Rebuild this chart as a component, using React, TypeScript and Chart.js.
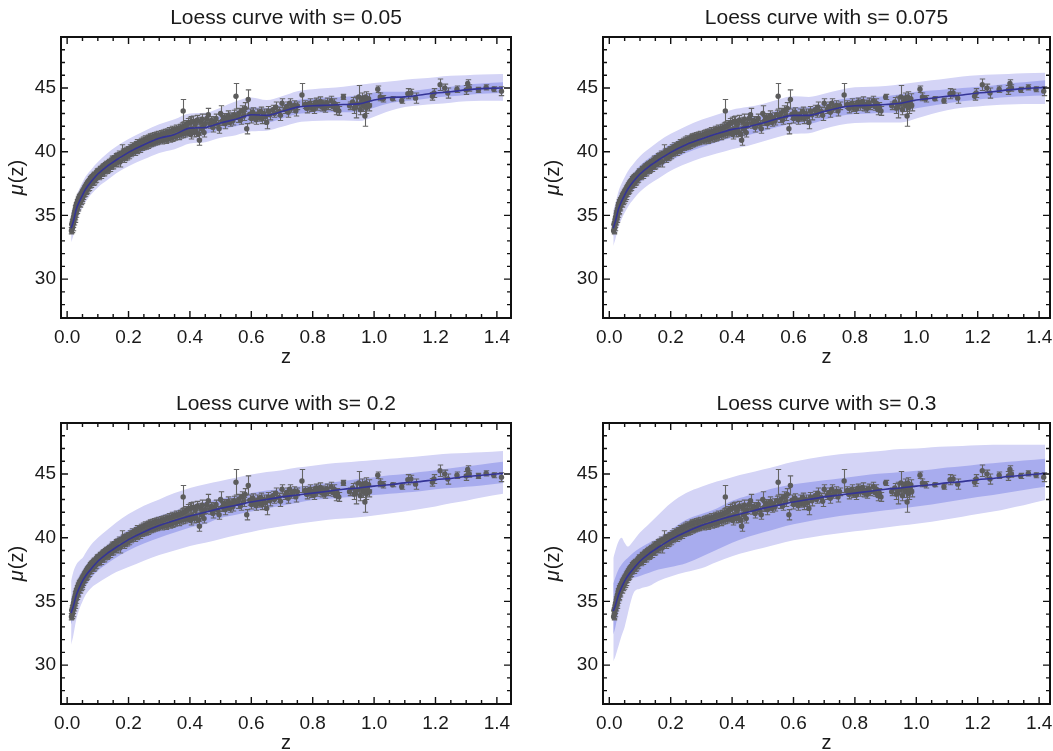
import React, { useEffect, useRef } from "react";
import { Chart, registerables } from "chart.js";

Chart.register(...registerables);

// ---------- data ----------
// Supernova distance moduli: [z, mu, sigma]
const snData: number[][] = [
  [0.014, 33.8, 0.25], [0.015, 34.3, 0.2], [0.016, 33.95, 0.3], [0.017, 34.45, 0.2], [0.018, 34.05, 0.25],
  [0.019, 34.7, 0.2], [0.02, 34.35, 0.3], [0.021, 34.9, 0.2], [0.022, 34.5, 0.25], [0.023, 35.15, 0.2],
  [0.024, 34.75, 0.3], [0.025, 35.35, 0.2], [0.026, 34.9, 0.25], [0.027, 35.55, 0.2], [0.028, 35.15, 0.3],
  [0.029, 35.8, 0.2], [0.03, 35.3, 0.25], [0.031, 35.9, 0.2], [0.032, 35.45, 0.3], [0.033, 36.05, 0.2],
  [0.034, 35.6, 0.25], [0.035, 36.2, 0.2], [0.036, 35.75, 0.3], [0.037, 36.3, 0.2], [0.038, 35.95, 0.25],
  [0.04, 36.45, 0.2], [0.041, 35.95, 0.3], [0.043, 36.55, 0.2], [0.044, 36.1, 0.25], [0.046, 36.7, 0.2],
  [0.047, 36.25, 0.3], [0.049, 36.85, 0.2], [0.05, 36.35, 0.25], [0.052, 36.95, 0.2], [0.053, 36.55, 0.3],
  [0.055, 37.1, 0.2], [0.056, 36.7, 0.25], [0.058, 37.25, 0.2], [0.059, 36.8, 0.3], [0.061, 37.35, 0.2],
  [0.062, 36.9, 0.25], [0.064, 37.5, 0.2], [0.065, 37.05, 0.3], [0.067, 37.6, 0.2], [0.068, 37.15, 0.25],
  [0.07, 37.7, 0.2], [0.072, 37.25, 0.3], [0.074, 37.85, 0.2], [0.075, 37.4, 0.25], [0.077, 37.95, 0.2],
  [0.079, 37.5, 0.3], [0.081, 38.0, 0.2], [0.083, 37.6, 0.25], [0.085, 38.1, 0.2], [0.087, 37.7, 0.3],
  [0.089, 38.2, 0.2], [0.091, 37.8, 0.25], [0.093, 38.3, 0.2], [0.095, 37.9, 0.3], [0.097, 38.45, 0.2],
  [0.099, 38.05, 0.25],
  [0.102, 38.5, 0.2], [0.104, 38.05, 0.25], [0.107, 38.65, 0.2], [0.109, 38.2, 0.3], [0.112, 38.75, 0.2],
  [0.114, 38.3, 0.25], [0.117, 38.85, 0.2], [0.119, 38.4, 0.3], [0.122, 38.95, 0.2], [0.124, 38.5, 0.25],
  [0.127, 39.05, 0.2], [0.129, 38.6, 0.3],
  [0.132, 39.1, 0.2], [0.134, 38.65, 0.25], [0.137, 39.2, 0.2], [0.139, 38.75, 0.3], [0.142, 39.3, 0.2],
  [0.144, 38.85, 0.25], [0.147, 39.4, 0.25], [0.149, 38.95, 0.3], [0.152, 39.5, 0.2], [0.155, 39.05, 0.25],
  [0.158, 39.6, 0.25], [0.16, 39.15, 0.3], [0.163, 39.7, 0.2], [0.166, 39.25, 0.3], [0.169, 39.8, 0.25],
  [0.172, 39.2, 0.4], [0.175, 39.85, 0.2], [0.178, 39.85, 0.7], [0.181, 39.95, 0.25], [0.184, 39.45, 0.3],
  [0.187, 40.05, 0.2], [0.19, 39.55, 0.25], [0.193, 40.1, 0.25], [0.196, 39.65, 0.3], [0.199, 40.2, 0.2],
  [0.202, 39.75, 0.3], [0.205, 40.3, 0.25], [0.208, 39.85, 0.25], [0.211, 40.4, 0.3], [0.214, 39.95, 0.25],
  [0.217, 40.45, 0.2], [0.22, 40.0, 0.3], [0.223, 40.55, 0.25], [0.226, 40.1, 0.25], [0.229, 40.65, 0.3],
  [0.232, 40.2, 0.25], [0.235, 40.7, 0.2], [0.238, 40.25, 0.3], [0.241, 40.8, 0.25], [0.244, 40.35, 0.25],
  [0.247, 40.85, 0.3], [0.25, 40.4, 0.25], [0.253, 40.95, 0.3], [0.256, 40.45, 0.25], [0.259, 41.0, 0.25],
  [0.262, 40.55, 0.3], [0.265, 41.05, 0.25], [0.268, 40.6, 0.25], [0.271, 41.1, 0.3], [0.274, 40.65, 0.25],
  [0.277, 41.15, 0.3], [0.28, 40.7, 0.25], [0.283, 41.2, 0.3], [0.286, 40.75, 0.25], [0.289, 41.25, 0.3],
  [0.292, 40.8, 0.25], [0.295, 41.3, 0.3], [0.298, 40.85, 0.25],
  [0.301, 41.3, 0.3], [0.304, 40.85, 0.25], [0.307, 41.35, 0.3], [0.31, 40.9, 0.3], [0.313, 41.4, 0.3],
  [0.316, 40.95, 0.25], [0.319, 41.45, 0.3], [0.322, 40.95, 0.3], [0.325, 41.5, 0.3], [0.328, 41.0, 0.25],
  [0.331, 41.55, 0.35], [0.334, 41.05, 0.3], [0.337, 41.6, 0.3], [0.34, 41.1, 0.3], [0.343, 41.65, 0.35],
  [0.346, 41.15, 0.3], [0.349, 41.7, 0.3], [0.352, 41.2, 0.3], [0.355, 41.75, 0.35], [0.358, 41.25, 0.3],
  [0.361, 41.8, 0.3], [0.364, 41.3, 0.35], [0.367, 41.85, 0.3], [0.37, 41.35, 0.3], [0.373, 41.9, 0.35],
  [0.376, 41.4, 0.3], [0.378, 43.2, 0.9], [0.381, 42.0, 0.35], [0.384, 41.45, 0.3], [0.387, 42.1, 0.35],
  [0.39, 41.55, 0.3], [0.393, 42.2, 0.4], [0.396, 41.6, 0.3], [0.399, 42.3, 0.4], [0.402, 41.35, 0.35],
  [0.405, 42.35, 0.4], [0.408, 41.7, 0.3], [0.411, 42.4, 0.4], [0.414, 41.5, 0.35], [0.417, 42.15, 0.3],
  [0.42, 41.6, 0.4], [0.424, 42.5, 0.35], [0.428, 41.4, 0.4], [0.431, 40.9, 0.4], [0.434, 42.35, 0.35],
  [0.437, 41.8, 0.3], [0.44, 42.55, 0.4], [0.443, 41.95, 0.35], [0.446, 41.5, 0.35], [0.449, 42.2, 0.3],
  [0.455, 42.6, 0.35], [0.46, 42.9, 0.5], [0.465, 42.2, 0.35], [0.47, 42.45, 0.3], [0.475, 41.9, 0.35],
  [0.48, 42.3, 0.4], [0.485, 42.6, 0.35], [0.49, 42.15, 0.3], [0.495, 41.8, 0.35], [0.5, 43.0, 0.6],
  [0.505, 42.4, 0.35], [0.51, 42.7, 0.3], [0.515, 42.2, 0.4], [0.52, 42.55, 0.35], [0.525, 42.85, 0.35],
  [0.53, 42.3, 0.3], [0.535, 42.65, 0.4], [0.54, 42.45, 0.35], [0.545, 42.9, 0.35], [0.55, 44.35, 1.0],
  [0.555, 42.7, 0.4], [0.56, 43.05, 0.35], [0.565, 42.5, 0.35], [0.57, 43.2, 0.4], [0.575, 42.8, 0.35],
  [0.58, 43.4, 0.45], [0.585, 41.8, 0.4], [0.59, 44.1, 0.75], [0.595, 42.95, 0.4], [0.6, 42.6, 0.35],
  [0.605, 43.1, 0.35], [0.61, 42.8, 0.3], [0.615, 42.5, 0.35], [0.62, 42.95, 0.4], [0.625, 42.7, 0.3],
  [0.63, 43.15, 0.35], [0.635, 42.6, 0.4], [0.64, 43.0, 0.35], [0.645, 42.75, 0.3], [0.65, 42.3, 0.5],
  [0.655, 43.2, 0.35], [0.66, 42.9, 0.4], [0.67, 43.3, 0.35], [0.675, 43.0, 0.3], [0.68, 43.5, 0.4],
  [0.69, 43.15, 0.35], [0.695, 42.85, 0.4], [0.7, 43.8, 0.35], [0.71, 43.3, 0.3], [0.715, 43.55, 0.35],
  [0.72, 43.1, 0.4], [0.725, 43.8, 0.35], [0.73, 43.4, 0.3], [0.74, 43.65, 0.35], [0.745, 43.2, 0.4],
  [0.75, 43.6, 0.3], [0.765, 44.45, 0.9],
  [0.775, 43.7, 0.3], [0.78, 43.4, 0.35], [0.785, 43.55, 0.3], [0.79, 43.8, 0.35], [0.795, 43.45, 0.3],
  [0.8, 43.65, 0.3], [0.805, 43.35, 0.35], [0.81, 43.9, 0.3], [0.815, 43.6, 0.35], [0.82, 43.75, 0.3],
  [0.825, 43.95, 0.35], [0.83, 43.5, 0.3], [0.835, 43.7, 0.35], [0.84, 43.4, 0.3], [0.845, 43.85, 0.35],
  [0.85, 43.6, 0.3], [0.86, 44.0, 0.35], [0.865, 43.55, 0.3], [0.87, 43.8, 0.35], [0.875, 43.3, 0.4],
  [0.88, 43.5, 0.35], [0.885, 43.2, 0.35], [0.9, 44.3, 0.2],
  [0.92, 43.6, 0.3], [0.93, 43.9, 0.35], [0.935, 43.4, 0.4], [0.94, 43.5, 0.85], [0.945, 43.75, 0.4],
  [0.95, 44.3, 0.9], [0.955, 43.3, 0.4], [0.96, 43.9, 0.35], [0.962, 44.2, 0.4], [0.965, 43.6, 0.45],
  [0.968, 44.0, 0.35], [0.97, 42.8, 0.8], [0.972, 44.3, 0.4], [0.975, 43.45, 0.45], [0.978, 43.8, 0.35],
  [0.982, 44.15, 0.4], [0.985, 43.6, 0.4],
  [1.012, 44.9, 0.25], [1.02, 44.3, 0.3], [1.03, 44.15, 0.25], [1.06, 44.15, 0.15], [1.09, 44.0, 0.2],
  [1.11, 44.55, 0.4], [1.12, 44.6, 0.3], [1.135, 44.2, 0.4], [1.19, 44.35, 0.3], [1.195, 44.6, 0.35],
  [1.215, 45.25, 0.45], [1.23, 45.0, 0.3], [1.24, 44.6, 0.4], [1.27, 44.9, 0.25], [1.3, 44.85, 0.35],
  [1.305, 45.35, 0.3], [1.31, 45.0, 0.25], [1.34, 44.85, 0.2], [1.365, 45.05, 0.2], [1.39, 44.9, 0.2],
  [1.415, 44.75, 0.35],
];

// grid on which the loess fits / confidence bands are given
const bandZ = [0.013, 0.02, 0.03, 0.04, 0.05, 0.06, 0.08, 0.1, 0.13, 0.16, 0.2, 0.25, 0.3, 0.35, 0.4, 0.45,
  0.5, 0.55, 0.6, 0.65, 0.7, 0.75, 0.8, 0.85, 0.9, 0.95, 1.0, 1.05, 1.1, 1.15, 1.2, 1.25, 1.3, 1.35, 1.42];

// s = 0.05
const fit005 = [34.0, 34.5, 35.5, 36.1, 36.6, 37.05, 37.7, 38.25, 38.85, 39.35, 39.95, 40.55, 41.05, 41.35, 41.85, 41.9, 42.25, 42.55, 42.9, 42.85, 43.15, 43.5, 43.6, 43.65, 43.7, 43.75, 44.05, 44.25, 44.3, 44.45, 44.6, 44.7, 44.85, 44.95, 45.0];
const outerLo005 = [32.9, 33.4, 34.5, 35.1, 35.6, 36.05, 36.7, 37.2, 37.75, 38.3, 38.85, 39.4, 39.9, 40.2, 40.65, 40.75, 41.1, 41.3, 41.6, 41.65, 41.95, 42.3, 42.4, 42.45, 42.45, 42.4, 42.75, 43.2, 43.5, 43.65, 43.75, 43.85, 43.95, 44.0, 44.0];
const innerLo005 = [33.5, 34.0, 35.05, 35.65, 36.15, 36.6, 37.25, 37.8, 38.4, 38.9, 39.45, 40.05, 40.55, 40.85, 41.3, 41.4, 41.75, 42.0, 42.3, 42.3, 42.6, 42.95, 43.05, 43.1, 43.1, 43.1, 43.45, 43.8, 43.95, 44.1, 44.25, 44.35, 44.45, 44.55, 44.6];
const innerHi005 = [34.5, 35.0, 35.95, 36.55, 37.05, 37.5, 38.15, 38.7, 39.3, 39.8, 40.45, 41.05, 41.55, 41.9, 42.4, 42.45, 42.8, 43.15, 43.5, 43.4, 43.7, 44.05, 44.2, 44.25, 44.3, 44.4, 44.65, 44.7, 44.7, 44.85, 45.0, 45.1, 45.25, 45.35, 45.45];
const outerHi005 = [35.1, 35.6, 36.5, 37.1, 37.6, 38.05, 38.65, 39.2, 39.85, 40.4, 41.0, 41.6, 42.15, 42.55, 43.0, 43.05, 43.45, 43.95, 44.25, 44.05, 44.35, 44.75, 44.9, 45.0, 45.1, 45.25, 45.4, 45.5, 45.65, 45.75, 45.85, 45.95, 46.0, 46.05, 46.1];

// s = 0.075
const fit0075 = [34.0, 34.55, 35.5, 36.1, 36.6, 37.05, 37.7, 38.25, 38.85, 39.35, 39.95, 40.55, 41.0, 41.4, 41.75, 41.95, 42.25, 42.6, 42.85, 42.85, 43.15, 43.45, 43.6, 43.65, 43.7, 43.8, 44.05, 44.2, 44.35, 44.45, 44.6, 44.7, 44.85, 44.95, 45.05];
const outerLo0075 = [32.6, 33.15, 34.1, 34.7, 35.2, 35.65, 36.3, 36.85, 37.45, 37.9, 38.5, 39.05, 39.5, 39.85, 40.2, 40.45, 40.8, 41.15, 41.4, 41.45, 41.8, 42.1, 42.25, 42.3, 42.3, 42.3, 42.6, 42.95, 43.25, 43.45, 43.55, 43.65, 43.7, 43.75, 43.75];
const innerLo0075 = [33.35, 33.9, 34.85, 35.45, 35.95, 36.4, 37.05, 37.6, 38.2, 38.7, 39.3, 39.9, 40.35, 40.75, 41.1, 41.3, 41.6, 41.95, 42.2, 42.2, 42.5, 42.8, 42.95, 43.0, 43.05, 43.1, 43.4, 43.6, 43.8, 43.95, 44.1, 44.2, 44.3, 44.35, 44.4];
const innerHi0075 = [34.65, 35.2, 36.15, 36.75, 37.25, 37.7, 38.35, 38.9, 39.5, 40.0, 40.6, 41.2, 41.65, 42.05, 42.4, 42.6, 42.9, 43.25, 43.5, 43.5, 43.8, 44.1, 44.25, 44.3, 44.35, 44.5, 44.7, 44.8, 44.9, 45.0, 45.1, 45.2, 45.35, 45.45, 45.6];
const outerHi0075 = [35.4, 35.95, 36.9, 37.5, 38.0, 38.45, 39.1, 39.65, 40.25, 40.8, 41.4, 42.0, 42.5, 42.9, 43.3, 43.5, 43.75, 44.1, 44.35, 44.3, 44.55, 44.85, 45.05, 45.1, 45.15, 45.3, 45.45, 45.6, 45.75, 45.9, 46.0, 46.05, 46.1, 46.15, 46.2];

// s = 0.2
const fit02 = [34.1, 34.6, 35.5, 36.1, 36.6, 37.0, 37.6, 38.15, 38.75, 39.25, 39.85, 40.45, 40.95, 41.35, 41.7, 42.0, 42.3, 42.55, 42.8, 43.0, 43.2, 43.35, 43.5, 43.65, 43.8, 43.9, 44.05, 44.15, 44.3, 44.4, 44.55, 44.65, 44.8, 44.9, 45.05];
const outerLo02 = [31.6, 32.3, 33.6, 34.4, 35.0, 35.5, 36.1, 36.45, 36.9, 37.3, 37.7, 38.2, 38.65, 39.0, 39.35, 39.6, 39.9, 40.2, 40.45, 40.7, 40.9, 41.1, 41.25, 41.4, 41.5, 41.6, 41.75, 41.9, 42.05, 42.25, 42.45, 42.7, 42.9, 43.15, 43.45];
const innerLo02 = [33.2, 33.7, 34.6, 35.2, 35.75, 36.2, 36.9, 37.4, 37.95, 38.45, 39.0, 39.55, 40.0, 40.4, 40.8, 41.1, 41.55, 41.8, 42.05, 42.3, 42.5, 42.75, 42.95, 43.05, 43.15, 43.25, 43.35, 43.45, 43.55, 43.65, 43.8, 43.9, 44.0, 44.1, 44.3];
const innerHi02 = [35.2, 35.6, 36.4, 37.0, 37.4, 37.8, 38.35, 38.8, 39.4, 39.95, 40.6, 41.2, 41.7, 42.1, 42.5, 42.8, 43.05, 43.3, 43.5, 43.7, 43.85, 44.0, 44.15, 44.3, 44.45, 44.6, 44.75, 44.9, 45.0, 45.15, 45.3, 45.45, 45.6, 45.75, 45.95];
const outerHi02 = [36.6, 37.3, 37.9, 38.2, 38.4, 38.8, 39.5, 40.0, 40.6, 41.2, 41.85, 42.5, 43.0, 43.5, 43.9, 44.2, 44.45, 44.7, 44.95, 45.15, 45.3, 45.5, 45.65, 45.8, 45.9, 46.0, 46.1, 46.2, 46.3, 46.4, 46.5, 46.6, 46.65, 46.7, 46.8];

// s = 0.3
const fit03 = [34.25, 34.7, 35.5, 36.1, 36.6, 37.0, 37.6, 38.15, 38.75, 39.25, 39.85, 40.45, 40.95, 41.35, 41.7, 42.0, 42.3, 42.55, 42.8, 43.0, 43.2, 43.35, 43.5, 43.65, 43.8, 43.9, 44.05, 44.15, 44.3, 44.4, 44.55, 44.65, 44.8, 44.9, 45.05];
const outerLo03 = [30.3, 30.7, 31.5, 32.3, 33.0, 34.0, 35.7, 36.0, 36.2, 36.6, 36.95, 37.3, 37.6, 38.1, 38.55, 38.9, 39.2, 39.5, 39.8, 40.0, 40.2, 40.35, 40.5, 40.65, 40.8, 40.95, 41.1, 41.25, 41.45, 41.65, 41.85, 42.05, 42.3, 42.55, 42.95];
const innerLo03 = [32.4, 33.0, 34.2, 35.3, 36.2, 36.6, 36.85, 37.0, 37.25, 37.5, 37.7, 38.0, 38.5, 39.05, 39.6, 40.05, 40.4, 40.75, 41.05, 41.3, 41.5, 41.7, 41.85, 42.0, 42.15, 42.3, 42.45, 42.6, 42.8, 43.0, 43.2, 43.35, 43.55, 43.75, 44.0];
const innerHi03 = [36.4, 36.9, 37.5, 37.9, 38.2, 38.4, 38.85, 39.2, 39.6, 39.95, 40.6, 41.4, 41.85, 42.3, 42.9, 43.3, 43.65, 43.95, 44.2, 44.35, 44.5, 44.65, 44.8, 44.95, 45.05, 45.15, 45.25, 45.35, 45.5, 45.6, 45.75, 45.85, 45.95, 46.05, 46.2];
const outerHi03 = [38.4, 39.0, 39.7, 40.0, 39.6, 39.3, 39.8, 40.4, 41.1, 41.8, 42.7, 43.5, 44.0, 44.4, 44.75, 45.05, 45.35, 45.65, 45.95, 46.2, 46.4, 46.55, 46.65, 46.75, 46.85, 46.95, 47.0, 47.1, 47.15, 47.2, 47.25, 47.3, 47.3, 47.3, 47.3];

const titles = ["Loess curve with s= 0.05", "Loess curve with s= 0.075", "Loess curve with s= 0.2", "Loess curve with s= 0.3"];
const xTickValues = [0, 0.2, 0.4, 0.6, 0.8, 1.0, 1.2, 1.4];
const yTickValues = [30, 35, 40, 45];

// ---------- styles ----------
const FONT = '"Liberation Sans", Arial, Helvetica, sans-serif';
const OUTER_COLOR = "rgb(212,212,246)";
const INNER_COLOR = "rgb(168,172,238)";
const LINE_COLOR = "rgb(52,52,150)";
const POINT_COLOR = "rgb(92,92,92)";
const BAR_COLOR = "rgb(100,100,100)";
const TEXT_COLOR = "#1a1a1a";

type PanelCfg = {
  title: string;
  left: number; top: number; w: number; h: number;
  area: { l: number; t: number; r: number; b: number };
  xMin: number; xMax: number;
  fit: number[]; oLo: number[]; iLo: number[]; iHi: number[]; oHi: number[];
  yLabelOffset: number;
};

const panels: PanelCfg[] = [
  { title: titles[0], left: 0, top: 0, w: 526, h: 380, area: { l: 61, t: 37, r: 511, b: 318 }, xMin: -0.02, xMax: 1.446,
    fit: fit005, oLo: outerLo005, iLo: innerLo005, iHi: innerHi005, oHi: outerHi005, yLabelOffset: 44 },
  { title: titles[1], left: 526, top: 0, w: 527, h: 380, area: { l: 77, t: 37, r: 524, b: 318 }, xMin: -0.0205, xMax: 1.4355,
    fit: fit0075, oLo: outerLo0075, iLo: innerLo0075, iHi: innerHi0075, oHi: outerHi0075, yLabelOffset: 50 },
  { title: titles[2], left: 0, top: 380, w: 526, h: 371, area: { l: 61, t: 43, r: 511, b: 324 }, xMin: -0.02, xMax: 1.446,
    fit: fit02, oLo: outerLo02, iLo: innerLo02, iHi: innerHi02, oHi: outerHi02, yLabelOffset: 44 },
  { title: titles[3], left: 526, top: 380, w: 527, h: 371, area: { l: 77, t: 43, r: 524, b: 324 }, xMin: -0.0205, xMax: 1.4355,
    fit: fit03, oLo: outerLo03, iLo: innerLo03, iHi: innerHi03, oHi: outerHi03, yLabelOffset: 50 },
];

const Y_MIN = 26.95;
const Y_MAX = 49.0;
const POINTS_INDEX = 4;

function makeDecor(cfg: PanelCfg) {
  return {
    id: "decor",
    beforeDatasetDraw(chart: any, args: any) {
      if (args.index !== POINTS_INDEX) return;
      const { ctx, chartArea } = chart;
      const xs = chart.scales.x;
      const ys = chart.scales.y;
      ctx.save();
      ctx.beginPath();
      ctx.rect(chartArea.left, chartArea.top, chartArea.right - chartArea.left, chartArea.bottom - chartArea.top);
      ctx.clip();
      ctx.strokeStyle = BAR_COLOR;
      ctx.lineWidth = 1.1;
      ctx.beginPath();
      for (const [z, mu, err] of snData) {
        const px = Math.round(xs.getPixelForValue(z)) + 0.5;
        const y1 = ys.getPixelForValue(mu - err);
        const y2 = ys.getPixelForValue(mu + err);
        ctx.moveTo(px, y1);
        ctx.lineTo(px, y2);
        ctx.moveTo(px - 2.7, y1);
        ctx.lineTo(px + 2.7, y1);
        ctx.moveTo(px - 2.7, y2);
        ctx.lineTo(px + 2.7, y2);
      }
      ctx.stroke();
      ctx.restore();
    },
    afterDraw(chart: any) {
      const { ctx, chartArea } = chart;
      const { left, right, top, bottom } = chartArea;
      const xs = chart.scales.x;
      const ys = chart.scales.y;
      ctx.save();
      // ticks (inward, all four sides)
      ctx.strokeStyle = "#111";
      ctx.lineWidth = 1.4;
      ctx.beginPath();
      for (let k = 0; k <= 29; k++) {
        const v = k * 0.05;
        const px = xs.getPixelForValue(v);
        if (px < left + 1 || px > right - 1) continue;
        const len = k % 4 === 0 ? 7 : 4;
        ctx.moveTo(px, bottom);
        ctx.lineTo(px, bottom - len);
        ctx.moveTo(px, top);
        ctx.lineTo(px, top + len);
      }
      for (let v = 27; v <= 49; v++) {
        const py = ys.getPixelForValue(v);
        if (py < top + 1 || py > bottom - 1) continue;
        const len = v % 5 === 0 ? 7 : 4;
        ctx.moveTo(left, py);
        ctx.lineTo(left + len, py);
        ctx.moveTo(right, py);
        ctx.lineTo(right - len, py);
      }
      ctx.stroke();
      // frame
      ctx.lineWidth = 2;
      ctx.strokeRect(left, top, right - left, bottom - top);

      // title
      ctx.fillStyle = TEXT_COLOR;
      ctx.font = `21px ${FONT}`;
      ctx.textAlign = "center";
      ctx.textBaseline = "alphabetic";
      const cx = (left + right) / 2;
      ctx.fillText(cfg.title, cx, top - 13);
      // x label
      ctx.font = `20px ${FONT}`;
      ctx.fillText("z", cx, bottom + 45);
      // y label μ(z), rotated
      const cy = (top + bottom) / 2;
      ctx.translate(left - cfg.yLabelOffset, cy);
      ctx.rotate(-Math.PI / 2);
      ctx.textAlign = "left";
      ctx.textBaseline = "middle";
      ctx.font = `italic 20px ${FONT}`;
      const muW = ctx.measureText("μ").width;
      ctx.font = `20px ${FONT}`;
      const restW = ctx.measureText("(z)").width;
      const x0 = -(muW + restW + 1) / 2;
      ctx.font = `italic 20px ${FONT}`;
      ctx.fillText("μ", x0, 0);
      ctx.font = `20px ${FONT}`;
      ctx.fillText("(z)", x0 + muW + 1, 0);
      ctx.restore();
    },
  };
}

function Panel({ cfg }: { cfg: PanelCfg }) {
  const ref = useRef<HTMLCanvasElement>(null);
  useEffect(() => {
    const canvas = ref.current;
    if (!canvas) return;
    const toPts = (arr: number[]) => bandZ.map((z, i) => ({ x: z, y: arr[i] }));
    const bandBase = {
      borderWidth: 0,
      borderColor: "rgba(0,0,0,0)",
      pointRadius: 0,
      cubicInterpolationMode: "monotone" as const,
    };
    const chart = new Chart(canvas, {
      type: "line",
      data: {
        datasets: [
          { ...bandBase, label: "outer lo", data: toPts(cfg.oLo), fill: false, order: 6 },
          { ...bandBase, label: "outer hi", data: toPts(cfg.oHi), fill: "-1", backgroundColor: OUTER_COLOR, order: 5 },
          { ...bandBase, label: "inner lo", data: toPts(cfg.iLo), fill: false, order: 4 },
          { ...bandBase, label: "inner hi", data: toPts(cfg.iHi), fill: "-1", backgroundColor: INNER_COLOR, order: 3 },
          {
            label: "SNe",
            data: snData.map(([z, mu]) => ({ x: z, y: mu })),
            showLine: false,
            pointRadius: 2.7,
            pointBackgroundColor: POINT_COLOR,
            pointBorderWidth: 0,
            pointBorderColor: POINT_COLOR,
            order: 2,
          },
          {
            label: "loess",
            data: toPts(cfg.fit),
            borderColor: LINE_COLOR,
            borderWidth: 1.6,
            pointRadius: 0,
            fill: false,
            cubicInterpolationMode: "monotone",
            order: 1,
          },
        ],
      },
      options: {
        animation: false,
        responsive: false,
        events: [],
        layout: {
          autoPadding: false,
          padding: { left: 0, top: cfg.area.t, right: cfg.w - cfg.area.r, bottom: 0 },
        },
        plugins: {
          legend: { display: false },
          title: { display: false },
          tooltip: { enabled: false },
        },
        scales: {
          x: {
            type: "linear",
            min: cfg.xMin,
            max: cfg.xMax,
            grid: { display: false, drawTicks: false },
            border: { display: false },
            afterBuildTicks: (s: any) => {
              s.ticks = xTickValues.map((v) => ({ value: v }));
            },
            afterFit: (s: any) => {
              s.height = cfg.h - cfg.area.b;
              s.paddingLeft = 0;
              s.paddingRight = 0;
            },
            ticks: {
              autoSkip: false,
              maxRotation: 0,
              padding: 8,
              color: TEXT_COLOR,
              font: { family: FONT, size: 19 },
              callback: (v: any) => Number(v).toFixed(1),
            },
          },
          y: {
            type: "linear",
            min: Y_MIN,
            max: Y_MAX,
            grid: { display: false, drawTicks: false },
            border: { display: false },
            afterBuildTicks: (s: any) => {
              s.ticks = yTickValues.map((v) => ({ value: v }));
            },
            afterFit: (s: any) => {
              s.width = cfg.area.l;
              s.paddingTop = 0;
              s.paddingBottom = 0;
            },
            ticks: {
              autoSkip: false,
              padding: 5,
              color: TEXT_COLOR,
              font: { family: FONT, size: 19 },
              callback: (v: any) => String(v),
            },
          },
        },
      } as any,
      plugins: [makeDecor(cfg)],
    });
    return () => chart.destroy();
  }, [cfg]);
  return (
    <canvas
      ref={ref}
      width={cfg.w}
      height={cfg.h}
      style={{ position: "absolute", left: cfg.left, top: cfg.top, width: cfg.w, height: cfg.h }}
    />
  );
}

export default function App() {
  return (
    <div style={{ position: "absolute", left: 0, top: 0, width: 1053, height: 751, background: "#fff", overflow: "hidden" }}>
      {panels.map((p, i) => (
        <Panel key={i} cfg={p} />
      ))}
    </div>
  );
}
